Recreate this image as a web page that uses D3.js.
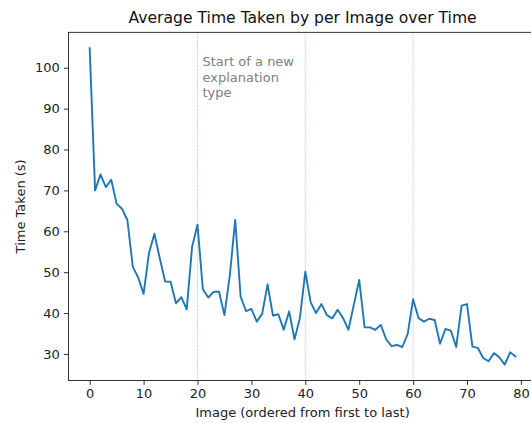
<!DOCTYPE html>
<html>
<head>
<meta charset="utf-8">
<script src="https://cdn.jsdelivr.net/npm/d3@7"></script>
<style>
  html, body { margin: 0; padding: 0; background: #fff; }
  svg { display: block; font-family: "DejaVu Sans", sans-serif; }
</style>
</head>
<body>
<svg id="chart" width="531" height="423"></svg>
<script>
// ---- data ----
const timeTaken = [
  104.8, 70.0, 73.9, 70.8, 72.6, 66.7, 65.5, 62.7, 51.3, 48.7,
  44.7, 54.7, 59.4, 53.4, 47.7, 47.7, 42.4, 43.9, 40.9, 56.2,
  61.6, 45.8, 43.8, 45.2, 45.2, 39.5, 49.3, 62.8, 44.0, 40.5,
  41.0, 37.9, 39.8, 47.0, 39.4, 39.7, 35.9, 40.4, 33.6, 38.8,
  50.1, 42.6, 40.0, 42.2, 39.5, 38.7, 40.8, 38.8, 35.9, 42.0,
  48.1, 36.5, 36.5, 35.9, 37.1, 33.6, 31.9, 32.2, 31.7, 34.9,
  43.4, 38.8, 37.9, 38.6, 38.3, 32.5, 36.1, 35.7, 31.7, 41.8,
  42.2, 31.8, 31.5, 29.0, 28.2, 30.2, 29.2, 27.4, 30.4, 29.4
];
const imageIndex = timeTaken.map((d, i) => i);
const newTypeStarts = [20, 40, 60];
const xTicks = [0, 10, 20, 30, 40, 50, 60, 70, 80];
const yTicks = [30, 40, 50, 60, 70, 80, 90, 100];
const titleText = "Average Time Taken by per Image over Time";
const xLabelText = "Image (ordered from first to last)";
const yLabelText = "Time Taken (s)";
const annotationLines = ["Start of a new", "explanation", "type"];

(function () {
// ---- layout ----
const svg = d3.select("#chart");
const mLeft = 68.4, mTop = 32.3, mBottom = 380.4, mRight = 536.8;

function padded(ext) {
  const m = (ext[1] - ext[0]) * 0.05;
  return [ext[0] - m, ext[1] + m];
}
const x = d3.scaleLinear().domain(padded(d3.extent(imageIndex))).range([mLeft, mRight]);
const y = d3.scaleLinear().domain(padded(d3.extent(timeTaken))).range([mBottom, mTop]);

const fontSize = 13;

// vertical dotted lines
svg.append("g").selectAll("line").data(newTypeStarts).join("line")
  .attr("x1", d => x(d)).attr("x2", d => x(d))
  .attr("y1", mTop).attr("y2", mBottom)
  .attr("stroke", "#5b9bd5").attr("stroke-opacity", 0.7)
  .attr("stroke-width", 0.9).attr("stroke-dasharray", "1,1.5");

// annotation
const ann = svg.append("text")
  .attr("x", x(newTypeStarts[0]) + 5).attr("y", 66)
  .attr("fill", "#808080").attr("font-size", fontSize);
annotationLines.forEach((t, i) => {
  ann.append("tspan").attr("x", x(newTypeStarts[0]) + 5).attr("dy", i === 0 ? 0 : 15.5).text(t);
});

// line
const line = d3.line().x((d, i) => x(imageIndex[i])).y(d => y(d));
svg.append("path").datum(timeTaken)
  .attr("d", line).attr("fill", "none")
  .attr("stroke", "#1f77b4").attr("stroke-width", 1.9)
  .attr("stroke-linejoin", "round").attr("stroke-linecap", "square");

// axes
const xAxis = svg.append("g").attr("transform", `translate(0,${mBottom})`)
  .call(d3.axisBottom(x).tickValues(xTicks).tickSize(4.5).tickPadding(4).tickFormat(d3.format("d")));
const yAxis = svg.append("g").attr("transform", `translate(${mLeft},0)`)
  .call(d3.axisLeft(y).tickValues(yTicks).tickSize(4.5).tickPadding(4).tickFormat(d3.format("d")));
[xAxis, yAxis].forEach(g => {
  g.select(".domain").remove();
  g.selectAll(".tick line").attr("stroke", "#000").attr("stroke-width", 0.8);
  g.selectAll(".tick text").attr("fill", "#222").attr("font-size", fontSize)
    .attr("font-family", "DejaVu Sans, sans-serif");
});

// spines
svg.append("rect")
  .attr("x", mLeft).attr("y", mTop)
  .attr("width", mRight - mLeft).attr("height", mBottom - mTop)
  .attr("fill", "none").attr("stroke", "#000").attr("stroke-width", 0.8);

// title and labels
svg.append("text").attr("x", (mLeft + mRight) / 2).attr("y", 23)
  .attr("text-anchor", "middle").attr("font-size", 15.6).attr("fill", "#111").text(titleText);
svg.append("text").attr("x", (mLeft + mRight) / 2).attr("y", 417)
  .attr("text-anchor", "middle").attr("font-size", fontSize).attr("fill", "#222").text(xLabelText);
svg.append("text").attr("transform", `translate(25,${(mTop + mBottom) / 2}) rotate(-90)`)
  .attr("text-anchor", "middle").attr("font-size", fontSize).attr("fill", "#222").text(yLabelText);
})();
</script>
</body>
</html>
